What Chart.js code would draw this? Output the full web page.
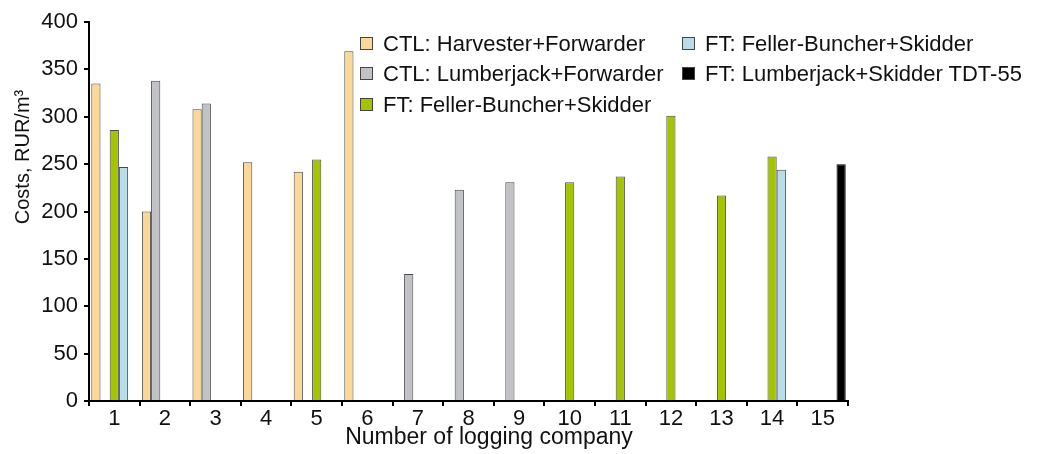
<!DOCTYPE html>
<html>
<head>
<meta charset="utf-8">
<script src="https://cdn.jsdelivr.net/npm/chart.js@4"></script>
<style>
  html, body { margin: 0; padding: 0; background: #fff; }
  #wrap { position: relative; width: 1040px; height: 454px; }
  #legend { position: absolute; left: 360px; top: 31px; font-family: "Liberation Sans", Arial, sans-serif; font-size: 22px; color: #111; }
  .item { position: absolute; white-space: nowrap; height: 26px; line-height: 26px; }
  .box { display: inline-block; width: 11px; height: 11px; border: 1px solid #444; margin-right: 10px; vertical-align: 1px; }
</style>
</head>
<body>
<div id="wrap">
  <canvas id="chart" width="1040" height="454"></canvas>
  <div id="legend"></div>
</div>
<script>
// dados (RUR/m3), null = sem barra
const companies = ["1","2","3","4","5","6","7","8","9","10","11","12","13","14","15"];
const ctlHarvester  = [335, 200, 308, 252, 242, 369, null, null, null, null, null, null, null, null, null];
const ctlLumberjack = [null, 338, 314, null, null, null, 134, 223, 231, null, null, null, null, null, null];
const ftBuncherGreen = [286, null, null, null, 255, null, null, null, null, 231, 237, 301, 217, 258, null];
const ftBuncherBlue  = [247, null, null, null, null, null, null, null, null, null, null, null, null, 244, null];
const ftLumberjackTDT = [null, null, null, null, null, null, null, null, null, null, null, null, null, null, 250];
const yTicks = [0, 50, 100, 150, 200, 250, 300, 350, 400];

const seriesNames = ["CTL: Harvester+Forwarder", "CTL: Lumberjack+Forwarder", "FT: Feller-Buncher+Skidder",
  "FT: Feller-Buncher+Skidder", "FT: Lumberjack+Skidder TDT-55"];
const seriesColors = ["#FBD898", "#C1C2C6", "#A3C400", "#B9DCE9", "#000000"];
const seriesData = [ctlHarvester, ctlLumberjack, ftBuncherGreen, ftBuncherBlue, ftLumberjackTDT];

const FONT = "Liberation Sans, Arial, sans-serif";

/*------------- legenda em duas colunas ----------------*/
const legendPos = [[0, 0], [0, 30], [0, 61], [322, 0], [322, 30]];
const legendDiv = document.getElementById("legend");
seriesNames.forEach((name, i) => {
  const div = document.createElement("div");
  div.className = "item";
  div.style.left = legendPos[i][0] + "px";
  div.style.top = legendPos[i][1] + "px";
  div.innerHTML = '<span class="box" style="background:' + seriesColors[i] + '"></span>' + name;
  legendDiv.appendChild(div);
});

/*------------- titulos dos eixos desenhados a mao ----------------*/
const axisTitles = {
  id: "axisTitles",
  afterDraw(chart) {
    const ctx = chart.ctx;
    ctx.save();
    ctx.fillStyle = "#111";
    ctx.textAlign = "center";
    ctx.textBaseline = "middle";
    ctx.font = "23px " + FONT;
    ctx.fillText("Number of logging company", 489, 438);
    ctx.font = "20px " + FONT;
    ctx.translate(23, 157);
    ctx.rotate(-Math.PI / 2);
    ctx.fillText("Costs, RUR/m³", 0, 0);
    ctx.restore();
  }
};

new Chart(document.getElementById("chart"), {
  type: "bar",
  data: {
    labels: companies,
    datasets: seriesData.map((d, i) => ({
      label: seriesNames[i],
      data: d,
      backgroundColor: seriesColors[i],
      borderColor: i === 4 ? "#000" : "#4a4a4a",
      borderWidth: 1,
      categoryPercentage: 0.91,
      barPercentage: 1.0
    }))
  },
  options: {
    responsive: false,
    animation: false,
    layout: { padding: { left: 0, right: 192, top: 22, bottom: 0 } },
    plugins: { legend: { display: false }, tooltip: { enabled: false } },
    scales: {
      x: {
        offset: true,
        grid: { display: true, offset: true, drawOnChartArea: false, color: "#000", tickLength: 5, lineWidth: 2 },
        border: { color: "#000", width: 2 },
        ticks: { color: "#111", font: { family: FONT, size: 22 }, padding: 0, maxRotation: 0 },
        afterFit(scale) { scale.height = 53; }
      },
      y: {
        min: 0, max: 400,
        afterBuildTicks(scale) { scale.ticks = yTicks.map(v => ({ value: v })); },
        grid: { drawOnChartArea: false, color: "#000", tickLength: 5, lineWidth: 2 },
        border: { color: "#000", width: 2 },
        ticks: { color: "#111", font: { family: FONT, size: 22 }, padding: 6 },
        afterFit(scale) { scale.width = 89; }
      }
    }
  },
  plugins: [axisTitles]
});
</script>
</body>
</html>
